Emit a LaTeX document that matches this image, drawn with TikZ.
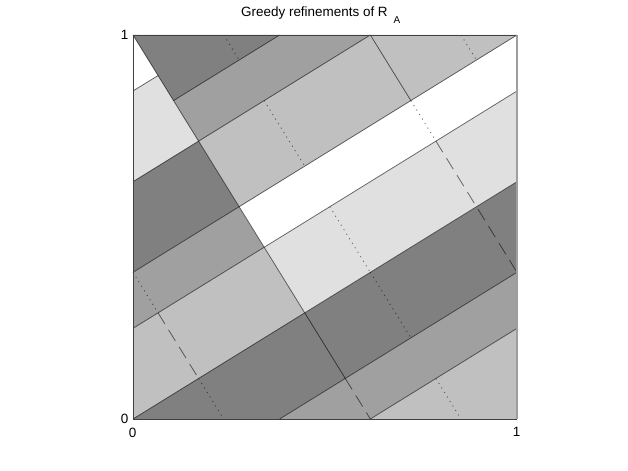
\documentclass[tikz,border=0pt]{standalone}
\usepackage{fontspec}
\setmainfont{Liberation Sans}
\begin{document}
\begin{tikzpicture}[x=1bp,y=1bp,
  edge/.style={draw=black, draw opacity=0.6, line width=0.75bp},
  dotline/.style={draw=black, draw opacity=0.55, line width=0.85bp, dash pattern=on 1.1bp off 4.2bp},
  dashline/.style={draw=black, draw opacity=0.55, line width=0.8bp, dash pattern=on 13bp off 7bp},
  lbl/.style={inner sep=0pt, font=\fontsize{13.5}{15}\selectfont}]
\useasboundingbox (0,0) rectangle (628,471);
\fill[white] (0,0) rectangle (628,471);
\definecolor{gA}{gray}{0.5}
\definecolor{gB}{gray}{0.627}
\definecolor{gC}{gray}{0.753}
\definecolor{gD}{gray}{0.878}
\begin{scope}[shift={(133,52)}, x=384bp, y=384bp]
% fills
\fill[white] (0,1) -- (0,0.854102) -- (0.065248,0.894427) -- cycle;
\fill[gD] (0,0.854102) -- (0.065248,0.894427) -- (0.170820,0.723607) -- (0,0.618034) -- cycle;
\fill[gA] (0,0.618034) -- (0.170820,0.723607) -- (0.276393,0.552786) -- (0,0.381966) -- cycle;
\fill[gB] (0,0.381966) -- (0.276393,0.552786) -- (0.341641,0.447214) -- (0,0.236068) -- cycle;
\fill[gC] (0,0.236068) -- (0.341641,0.447214) -- (0.447214,0.276393) -- (0,0) -- cycle;
\fill[gA] (0,0) -- (1,0.618034) -- (1,0.381966) -- (0.381966,0) -- cycle;
\fill[gB] (0.381966,0) -- (1,0.381966) -- (1,0.236068) -- (0.618034,0) -- cycle;
\fill[gC] (0.618034,0) -- (1,0.236068) -- (1,0) -- cycle;
\fill[gD] (0.447214,0.276393) -- (1,0.618034) -- (1,0.854102) -- (0.341641,0.447214) -- cycle;
\fill[white] (0.341641,0.447214) -- (1,0.854102) -- (1,1) -- (0.276393,0.552786) -- cycle;
\fill[gC] (0.276393,0.552786) -- (1,1) -- (0.618034,1) -- (0.170820,0.723607) -- cycle;
\fill[gB] (0.170820,0.723607) -- (0.618034,1) -- (0.381966,1) -- (0.105573,0.829180) -- cycle;
\fill[gA] (0.105573,0.829180) -- (0.381966,1) -- (0,1) -- cycle;
% solid edges
\path[edge] (0,0) -- (1,0.618034);
\path[edge] (0,0.236068) -- (1,0.854102);
\path[edge] (0,0.381966) -- (1,1);
\path[edge] (0,0.618034) -- (0.618034,1);
\path[edge] (0.618034,0) -- (1,0.236068);
\path[edge] (0.381966,0) -- (1,0.381966);
\path[edge] (0.105573,0.829180) -- (0.381966,1);
\path[edge] (0,0.854102) -- (0.065248,0.894427);
\path[edge] (0,1) -- (0.552786,0.105573);
\path[edge] (0.618034,1) -- (0.723607,0.829180);
% dashed / dotted
\path[dashline] (0.552786,0.105573) -- (0.618034,0);
\path[dotline] (0.723607,0.829180) -- (0.788854,0.723607);
\path[dashline] (0.788854,0.723607) -- (1,0.381966);
\path[dotline] (0,0.381966) -- (0.065248,0.276393);
\path[dashline] (0.065248,0.276393) -- (0.170820,0.105573);
\path[dotline] (0.170820,0.105573) -- (0.236068,0);
\path[dotline] (0.236068,1) -- (0.276393,0.934752);
\path[dotline] (0.341641,0.829180) -- (0.447214,0.658359);
\path[dotline] (0.512461,0.552786) -- (0.618034,0.381966);
\path[dotline] (0.618034,0.381966) -- (0.723607,0.211146);
\path[dotline] (0.788854,0.105573) -- (0.854102,0);
\path[dotline] (0.854102,1) -- (0.894427,0.934752);
% frame
\draw[black!75, line width=0.8bp] (1,1) -- (0,1) -- (0,0) -- (1,0);
\draw[black!38, line width=1.6bp] (1,0) -- (1,1);
\end{scope}
\node[lbl, anchor=base west] (title) at (241,454) {Greedy refinements of R\hspace{6bp}\raisebox{-7bp}{\fontsize{10}{11}\selectfont A}};
\node[lbl, anchor=east] (ytop) at (128.5,436) {1};
\node[lbl, anchor=east] (ybot) at (128.5,52) {0};
\node[lbl] (xleft) at (132.5,38.5) {0};
\node[lbl] (xright) at (516.5,39) {1};
\end{tikzpicture}
\end{document}
